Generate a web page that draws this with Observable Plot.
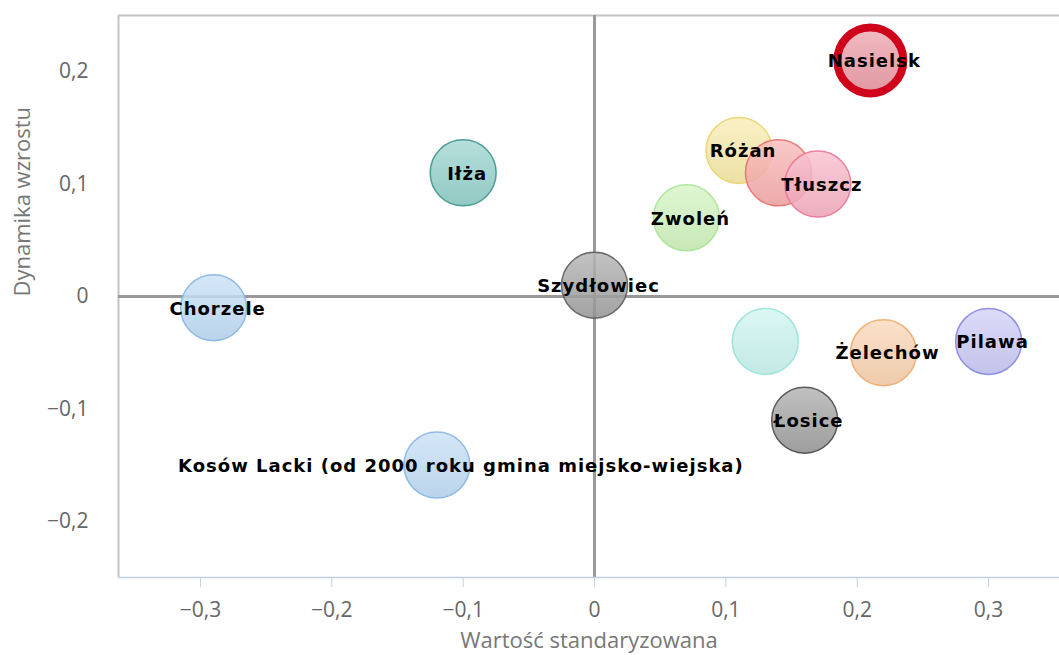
<!DOCTYPE html>
<html><head><meta charset="utf-8">
<script src="https://cdn.jsdelivr.net/npm/d3@7"></script>
<script src="https://cdn.jsdelivr.net/npm/@observablehq/plot@0.6"></script>
<style>
body{margin:0;background:#fff}
#chart svg{display:block}
#chart g[aria-label$="tick label"]{font-size:21px}
</style>
</head><body><div id="chart"></div>
<script>
// Data
const names = ["Nasielsk","Różan","","Tłuszcz","Zwoleń","Iłża","Szydłowiec","Chorzele","Kosów Lacki (od 2000 roku gmina miejsko-wiejska)","","Żelechów","Pilawa","Łosice"];
const xValues = [0.21, 0.11, 0.14, 0.17, 0.07, -0.10, 0.00, -0.29, -0.12, 0.13, 0.22, 0.30, 0.16];
const yValues = [0.21, 0.13, 0.11, 0.10, 0.07, 0.11, 0.01, -0.01, -0.15, -0.04, -0.05, -0.04, -0.11];
const fillColors = ["#e88c99","#f6e79e","#f6a3a3","#f7a9bd","#c9f1b4","#86c9c3","#9a9a9a","#b8d7f4","#b8d7f4","#c3f2ec","#f8cda6","#c3c3f5","#959595"];
const strokeColors = ["#d0021b","#ead36a","#e76f6f","#ea7592","#a6e495","#3d958d","#5c5c5c","#86b4e2","#86b4e2","#96e3d9","#f0aa6d","#8585e2","#4a4a4a"];
const xTicks = [-0.3, -0.2, -0.1, 0, 0.1, 0.2, 0.3];
const yTicks = [-0.2, -0.1, 0, 0.1, 0.2];
const xDomain = [-0.3624, 0.354];
const yDomain = [-0.25, 0.25];
const xTitle = "Wartość standaryzowana";
const yTitle = "Dynamika wzrostu";

const data = names.map((n, i) => ({name: n, x: xValues[i], y: yValues[i], i}));
const fmt = d => d === 0 ? "0" : String(d).replace(".", ",").replace("-", "\u2212");

const bubbleMarks = data.map(d => Plot.dot([d], {
  x: "x", y: "y", r: 33,
  fill: `url(#grad${d.i})`,
  fillOpacity: 0.85,
  stroke: strokeColors[d.i],
  strokeWidth: d.i === 0 ? 8 : 1.5,
  strokeOpacity: d.i === 0 ? 1 : 0.9
}));

const labelled = data.filter(d => d.name !== "");
const longLabel = labelled.filter(d => d.name.length > 20);
const shortLabels = labelled.filter(d => d.name.length <= 20);

const chart = Plot.plot({
  width: 1059, height: 655,
  marginLeft: 118, marginRight: 0, marginTop: 15, marginBottom: 78,
  style: {fontFamily: "'Open Sans', 'DejaVu Sans', sans-serif", fontSize: "16px", color: "#666", background: "#fff"},
  x: {domain: xDomain},
  y: {domain: yDomain},
  marks: [
    Plot.ruleX([xDomain[0]], {stroke: "#c4c4c4", strokeWidth: 2}),
    Plot.ruleY([yDomain[1]], {stroke: "#c4c4c4", strokeWidth: 2}),
    Plot.ruleX([0], {stroke: "#999", strokeWidth: 3}),
    Plot.ruleY([0], {stroke: "#999", strokeWidth: 3}),
    Plot.ruleY([yDomain[0]], {stroke: "#c0d0e0", strokeWidth: 1.5}),
    Plot.axisX({ticks: xTicks, tickFormat: fmt, tickSize: 10, tickPadding: 15, stroke: "#c0d0e0", fill: "#666", label: null}),
    Plot.axisY({ticks: yTicks, tickFormat: fmt, tickSize: 0, tickPadding: 30, fill: "#666", label: null}),
    ...bubbleMarks,
    Plot.text(shortLabels, {x: "x", y: "y", text: "name", dx: 4, dy: 1, fill: "#000", fontWeight: "bold", fontSize: 18, fontFamily: "'DejaVu Sans', sans-serif"}),
    Plot.text(longLabel, {x: "x", y: "y", text: "name", dx: 24, dy: 1, fill: "#000", fontWeight: "bold", fontSize: 18, fontFamily: "'DejaVu Sans', sans-serif"}),
    Plot.text([xTitle], {frameAnchor: "bottom", dy: 70, fill: "#777", fontSize: 22}),
    Plot.text([yTitle], {frameAnchor: "left", dx: -96, rotate: -90, fill: "#777", fontSize: 22})
  ]
});

// gradients for bubble fills
const ns = "http://www.w3.org/2000/svg";
const defs = document.createElementNS(ns, "defs");
fillColors.forEach((c, i) => {
  const g = document.createElementNS(ns, "linearGradient");
  g.setAttribute("id", "grad" + i);
  g.setAttribute("x1", "0"); g.setAttribute("y1", "0");
  g.setAttribute("x2", "0"); g.setAttribute("y2", "1");
  const top = d3.interpolateRgb(c, "#ffffff")(0.3);
  const bot = d3.color(c).darker(0.15).formatHex();
  [[0, top], [1, bot]].forEach(([o, col]) => {
    const s = document.createElementNS(ns, "stop");
    s.setAttribute("offset", o); s.setAttribute("stop-color", col);
    g.appendChild(s);
  });
  defs.appendChild(g);
});
chart.insertBefore(defs, chart.firstChild);
chart.querySelectorAll('g[aria-label="text"][font-weight="bold"]').forEach(g => {
  g.style.letterSpacing = "1px";
});
document.getElementById("chart").appendChild(chart);
</script>
</body></html>
